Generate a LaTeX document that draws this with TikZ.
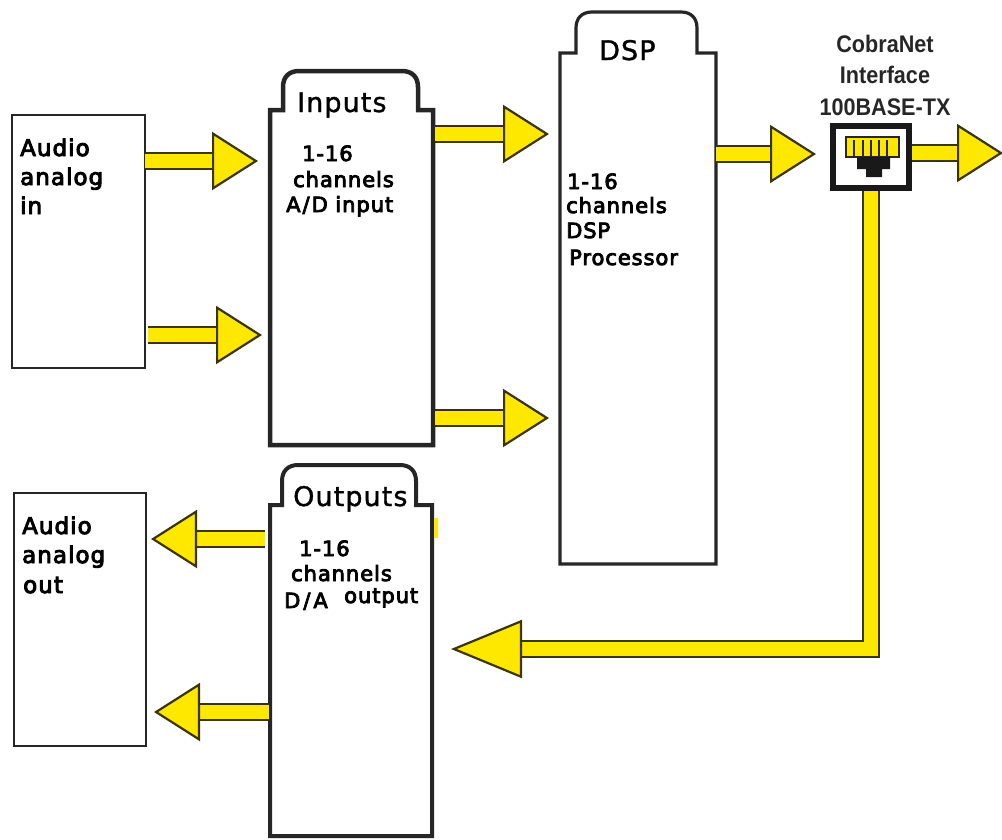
\documentclass[tikz,border=0pt]{standalone}
\usepackage{fontspec}
\usetikzlibrary{arrows.meta,calc}
\newfontfamily\boxfont[FakeBold=4,LetterSpace=4.5]{DejaVu Sans}
\newfontfamily\titlefont[FakeBold=1.2,LetterSpace=4]{DejaVu Sans}
\newfontfamily\jackfont[FakeStretch=0.9]{Liberation Sans}
\definecolor{flowyellow}{HTML}{FFE800}
\definecolor{flowline}{HTML}{3A3406}
\definecolor{blockline}{HTML}{262626}
\tikzset{
  plainbox/.style={draw=blockline, line width=1.8pt, fill=white, inner sep=0pt, outer sep=0pt},
  blockbody/.style={inner sep=0pt, outer sep=0pt},
  flow/.style={draw=flowline, line width=2pt, double=flowyellow, double distance=14.5pt,
    -{Triangle[length=#1, width=58pt, fill=flowyellow, line width=2.2pt]}},
  flow/.default=46pt,
  boxlabel/.style={anchor=base west, inner sep=0pt, font=\boxfont\fontsize{21}{25}\selectfont},
  sidelabel/.style={anchor=base west, inner sep=0pt, font=\boxfont\fontsize{23}{28}\selectfont},
  blocktitle/.style={anchor=base west, inner sep=0pt, font=\titlefont\fontsize{27}{30}\selectfont},
}
\newcommand{\tabblock}[5]{%
  \draw[draw=blockline, line width=#5, fill=white, line join=miter]
    (#1.south west) -- (#1.north west) -- ++(#2,0) -- ++(0,{-#4+16})
    .. controls +(0,-10) and +(-10,0) .. ++(16,-16)
    -- ($(#1.north east)+({-#3-16},-#4)$)
    .. controls +(10,0) and +(0,-10) .. ++(16,16)
    -- ($(#1.north east)+(-#3,0)$) -- (#1.north east) -- (#1.south east) -- cycle;
}
\begin{document}
\begin{tikzpicture}[x=1pt,y=-1pt]
  \useasboundingbox (0,0) rectangle (1002,839);

  \node[plainbox, minimum width=133pt, minimum height=253pt] (audioin) at (78.5,241.5) {};
  \node[plainbox, minimum width=132pt, minimum height=253pt] (audioout) at (80,619.5) {};

  \node[blockbody, minimum width=163pt, minimum height=335pt] (inputs) at (351.5,277.5) {};
  \node[blockbody, minimum width=162pt, minimum height=331pt] (outputs) at (351,670.5) {};
  \node[blockbody, minimum width=156pt, minimum height=511pt] (dsp) at (638,308.5) {};
  \tabblock{inputs}{13}{15}{39}{4.5pt}
  \tabblock{outputs}{12}{16}{40}{4pt}
  \tabblock{dsp}{16}{19}{41}{3.2pt}

  \node[draw=black!90, line width=6pt, fill=white, inner sep=0pt, outer sep=3pt,
    minimum width=76pt, minimum height=62pt] (jack) at (871,157) {};
  \draw[fill=flowyellow, draw=black!85, line width=1.6pt] (846,137) rectangle (899,157);
  \foreach \pinx in {854,863,871,879,887}
    \draw[black!85, line width=2pt] (\pinx,140) -- (\pinx,157);
  \fill[black!90] (857,157) -- (890,157) -- (890,169) -- (882,169) -- (882,177)
    -- (866,177) -- (866,169) -- (857,169) -- cycle;

  \coordinate (tipa) at (258,161);
  \coordinate (tipb) at (262,335);
  \coordinate (tipc) at (549,134);
  \coordinate (tipd) at (549,418);
  \coordinate (tipe) at (816,154);
  \coordinate (tipf) at (1003,153);
  \coordinate (tipg) at (451,649);
  \coordinate (tiph) at (151,539);
  \coordinate (tipi) at (154,712);

  \draw[flow] (audioin.east |- tipa) -- (tipa);
  \draw[flow] ([xshift=3pt]audioin.east |- tipb) -- (tipb);
  \draw[flow] ([xshift=2pt]inputs.east |- tipc) -- (tipc);
  \draw[flow] ([xshift=2pt]inputs.east |- tipd) -- (tipd);
  \draw[flow] (dsp.east |- tipe) -- (tipe);
  \draw[flow] (jack.east |- tipf) -- (tipf);
  \draw[flow=71pt] (jack.south) |- (tipg);
  \draw[flow] ([xshift=-5pt]outputs.west |- tiph) -- (tiph);
  \draw[flow] ([xshift=-1pt]outputs.west |- tipi) -- (tipi);
  \fill[flowyellow] (434,518) rectangle (438,538);

  \node[sidelabel] (inlinea) at (20,156) {Audio};
  \node[sidelabel] (inlineb) at (20,185) {analog};
  \node[sidelabel] (inlinec) at (20,214) {in};
  \node[sidelabel] (outlinea) at (22,534) {Audio};
  \node[sidelabel] (outlineb) at (22,563) {analog};
  \node[sidelabel] (outlinec) at (23,593) {out};

  \node[blocktitle] (inputstitle) at (297,112) {Inputs};
  \node[boxlabel] (inputsa) at (302,161) {1-16};
  \node[boxlabel] (inputsb) at (293,187) {channels};
  \node[boxlabel] (inputsc) at (286,212) {A\kern2pt/\kern2ptD input};

  \node[blocktitle] (outputstitle) at (293,506) {Outputs};
  \node[boxlabel] (outputsa) at (299,556) {1-16};
  \node[boxlabel] (outputsb) at (291,581) {channels};
  \node[boxlabel] (outputsc) at (284,608) {D\kern3pt/\kern3ptA};
  \node[boxlabel] (outputsd) at (344,603) {output};

  \node[blocktitle] (dsptitle) at (599,60) {DSP};
  \node[boxlabel] (dspa) at (567,189) {1-16};
  \node[boxlabel] (dspb) at (566,213) {channels};
  \node[boxlabel] (dspc) at (566,238) {DSP};
  \node[boxlabel] (dspd) at (569,265) {Processor};

  \node[align=center, inner sep=0pt, text=black!85, font=\jackfont\bfseries\fontsize{24}{31.5}\selectfont]
    (jacktitle) at (885,75) {CobraNet\\Interface\\100BASE-TX};
\end{tikzpicture}
\end{document}
